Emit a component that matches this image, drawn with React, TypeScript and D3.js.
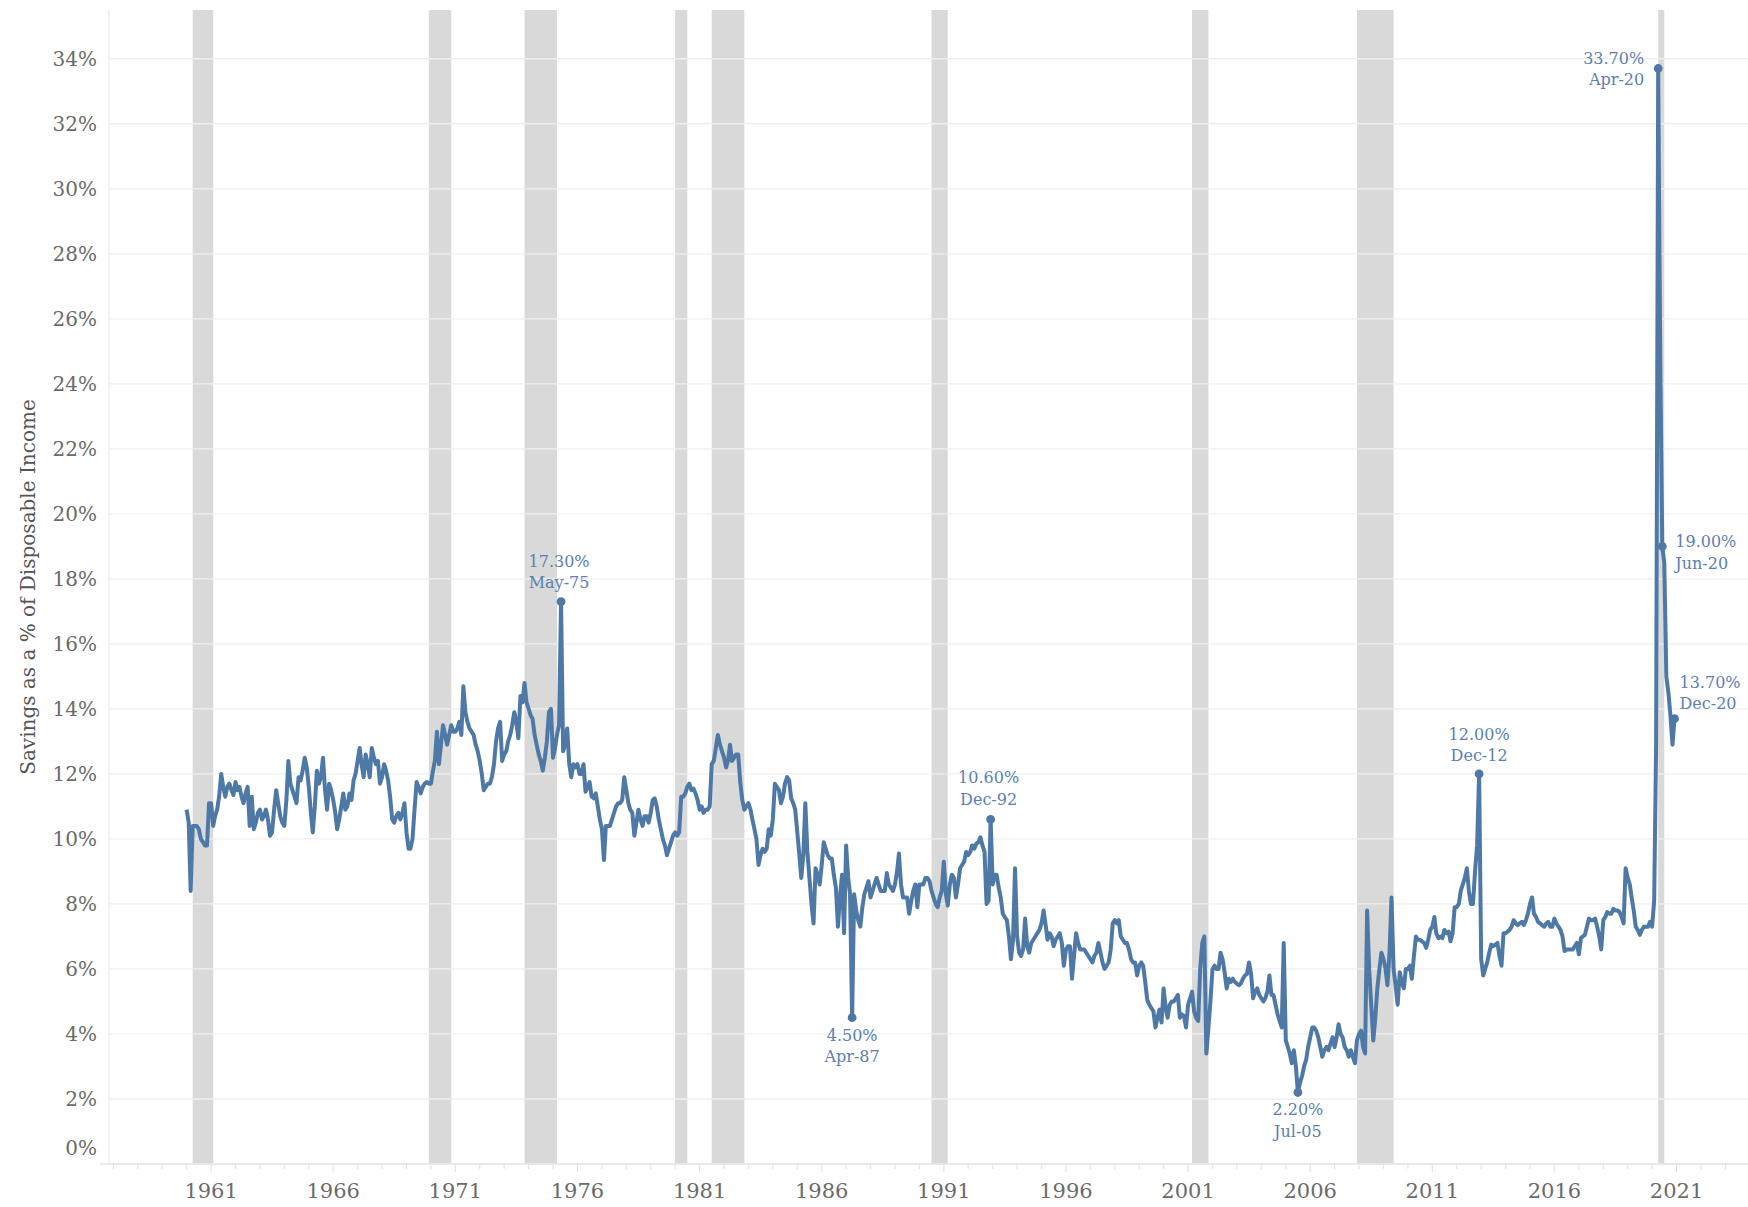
import * as d3 from 'd3'

// Personal saving rate, monthly, Jan 1960 - Dec 2020 (% of disposable income)
const rates1960s = [
  10.9, 10.5, 8.4, 10.4, 10.4, 10.4, 10.3, 10.0, 9.9, 9.8, 9.8, 11.1,
  11.1, 10.4, 10.7, 10.9, 11.3, 12.0, 11.6, 11.3, 11.6, 11.7, 11.5, 11.35,
  11.75, 11.5, 11.6, 11.3, 11.1, 11.4, 11.6, 10.4, 11.3, 10.3, 10.5, 10.8,
  10.9, 10.6, 10.7, 10.9, 10.6, 10.1, 10.2, 10.9, 11.5, 11.1, 10.7, 10.5,
  10.4, 11.2, 12.4, 11.7, 11.5, 11.3, 11.1, 11.9, 11.8, 12.1, 12.5, 12.2,
  11.6, 10.8, 10.2, 11.0, 12.1, 11.7, 11.9, 12.5, 11.5, 10.9, 11.7, 11.5,
  11.2, 10.8, 10.3, 10.6, 11.0, 11.4, 10.9, 11.0, 11.4, 11.2, 11.8, 12.0,
  12.4, 12.8, 12.3, 11.9, 12.6, 12.3, 11.9, 12.8, 12.5, 12.3, 12.4, 11.7,
  11.9, 12.3, 12.1, 11.8, 11.3, 10.6, 10.5, 10.7, 10.8, 10.6, 10.8, 11.1,
  10.2, 9.7, 9.7, 10.0, 10.9, 11.75, 11.6, 11.4, 11.6, 11.7, 11.75, 11.7,
]
const rates1970s = [
  11.7, 12.1, 12.4, 13.3, 12.3, 12.9, 13.5, 13.2, 12.9, 13.2, 13.5, 13.3,
  13.3, 13.4, 13.6, 13.2, 14.7, 13.9, 13.6, 13.4, 13.3, 13.2, 12.9, 12.7,
  12.4, 12.0, 11.5, 11.6, 11.7, 11.7, 11.9, 12.3, 13.0, 13.4, 13.6, 12.4,
  12.6, 12.7, 13.0, 13.2, 13.5, 13.9, 13.6, 13.1, 14.4, 14.2, 14.8, 14.2,
  14.0, 13.8, 13.7, 13.2, 12.9, 12.6, 12.4, 12.1, 12.5, 13.0, 13.9, 14.0,
  12.5, 12.8, 13.2, 13.5, 17.3, 12.7, 12.9, 13.4, 12.3, 11.9, 12.3, 12.2,
  12.3, 12.0, 12.0, 12.3, 11.45, 11.6, 11.75, 11.3, 11.25, 11.4, 11.0, 10.6,
  10.3, 9.35, 10.4, 10.4, 10.4, 10.6, 10.8, 11.0, 11.1, 11.1, 11.2, 11.9,
  11.5, 11.1, 10.9, 10.8, 10.1, 10.5, 10.9, 10.6, 10.4, 10.7, 10.7, 10.5,
  10.8, 11.2, 11.25, 11.0, 10.6, 10.3, 10.0, 9.8, 9.5, 9.7, 9.9, 10.1,
]
const rates1980s = [
  10.2, 10.1, 10.2, 11.3, 11.3, 11.4, 11.6, 11.7, 11.5, 11.55, 11.4, 11.2,
  10.9, 11.0, 10.8, 10.9, 10.9, 11.0, 12.3, 12.4, 12.8, 13.2, 12.9, 12.7,
  12.5, 12.2, 12.4, 12.9, 12.4, 12.5, 12.6, 12.6, 11.75, 11.2, 10.9, 11.0,
  11.1, 10.9, 10.6, 10.3, 10.0, 9.2, 9.5, 9.7, 9.6, 9.7, 10.3, 10.1,
  10.6, 11.7, 11.6, 11.5, 11.1, 11.3, 11.7, 11.9, 11.8, 11.25, 11.1, 10.9,
  10.2, 9.5, 8.8, 9.5, 11.1, 9.6, 8.8, 8.0, 7.4, 9.1, 8.9, 8.6,
  9.2, 9.9, 9.7, 9.5, 9.4, 9.4, 8.9, 8.5, 7.3, 8.2, 8.9, 7.1,
  9.8, 8.8, 8.3, 4.5, 8.3, 7.8, 7.5, 7.3, 7.9, 8.3, 8.5, 8.7,
  8.2, 8.4, 8.6, 8.8, 8.6, 8.4, 8.4, 8.4, 8.95, 8.6, 8.5, 8.4,
  8.6, 9.0, 9.55, 8.6, 8.2, 8.2, 8.2, 7.7, 8.1, 8.4, 8.6, 7.9,
]
const rates1990s = [
  8.6, 8.6, 8.6, 8.8, 8.8, 8.7, 8.4, 8.2, 8.0, 7.9, 8.2, 8.4,
  9.3, 8.3, 7.95, 8.6, 8.9, 8.8, 8.2, 8.6, 9.1, 9.2, 9.3, 9.6,
  9.5, 9.6, 9.8, 9.7, 9.85, 9.9, 10.05, 9.8, 9.6, 8.0, 8.1, 10.6,
  8.6, 8.9, 8.9, 8.5, 8.2, 7.7, 7.6, 7.5, 7.0, 6.3, 6.9, 9.1,
  7.0, 6.5, 6.4, 6.6, 7.55, 6.7, 6.5, 6.8, 6.9, 7.0, 7.1, 7.2,
  7.4, 7.8, 7.4, 6.9, 7.1, 7.0, 6.7, 6.9, 7.0, 7.1, 6.8, 6.1,
  6.6, 6.7, 6.7, 5.7, 6.4, 7.1, 6.8, 6.6, 6.6, 6.6, 6.5, 6.4,
  6.3, 6.2, 6.4, 6.5, 6.8, 6.5, 6.2, 6.0, 6.1, 6.2, 6.6, 7.4,
  7.5, 7.4, 7.5, 7.0, 6.9, 6.8, 6.8, 6.6, 6.3, 6.2, 6.2, 5.8,
  6.1, 6.2, 6.1, 5.6, 5.05, 4.9, 4.8, 4.7, 4.2, 4.5, 4.75, 4.35,
]
const rates2000s = [
  5.4, 4.8, 4.5, 4.9, 5.0, 5.0, 5.1, 5.2, 4.5, 4.6, 4.55, 4.2,
  4.9, 5.1, 5.3, 4.7, 4.5, 4.4, 6.0, 6.8, 7.0, 3.4, 4.2, 5.0,
  6.0, 6.1, 6.0, 6.0, 6.5, 6.3, 5.9, 5.4, 5.7, 5.6, 5.7, 5.6,
  5.55, 5.5, 5.55, 5.7, 5.8, 5.85, 6.2, 5.85, 5.1, 5.3, 5.4, 5.2,
  5.1, 5.0, 5.1, 5.3, 5.8, 5.2, 5.2, 4.9, 4.6, 4.4, 4.2, 6.8,
  3.8, 3.6, 3.4, 3.1, 3.5, 3.0, 2.2, 2.5, 2.7, 3.0, 3.2, 3.6,
  3.9, 4.2, 4.2, 4.1, 3.9, 3.6, 3.3, 3.5, 3.6, 3.5, 3.7, 3.9,
  3.6, 3.9, 4.3, 4.0, 3.9, 3.6, 3.5, 3.3, 3.5, 3.3, 3.1, 3.8,
  4.0, 4.1, 3.6, 3.4, 7.8, 6.0, 4.9, 3.8, 4.5, 5.4, 6.0, 6.5,
  6.3, 6.0, 5.5, 6.5, 8.2, 6.0, 5.5, 4.9, 5.9, 5.6, 5.4, 6.0,
]
const rates2010s = [
  6.0, 6.1, 5.7, 6.4, 7.0, 6.9, 6.9, 6.85, 6.8, 6.65, 6.9, 7.2,
  7.3, 7.6, 7.1, 6.95, 7.0, 6.95, 7.2, 7.1, 7.15, 6.85, 7.1, 7.9,
  7.9, 8.0, 8.4, 8.6, 8.8, 9.1, 8.4, 8.0, 8.0, 9.0, 9.8, 12.0,
  6.3, 5.8, 6.0, 6.2, 6.5, 6.75, 6.7, 6.75, 6.8, 6.4, 6.1, 7.1,
  7.1, 7.15, 7.2, 7.3, 7.5, 7.4, 7.35, 7.4, 7.45, 7.35, 7.5, 7.7,
  8.0, 8.2, 7.7, 7.6, 7.45, 7.4, 7.35, 7.3, 7.4, 7.45, 7.3, 7.3,
  7.55, 7.4, 7.3, 7.2, 7.0, 6.55, 6.6, 6.6, 6.6, 6.6, 6.7, 6.8,
  6.45, 6.95, 7.0, 7.05, 7.3, 7.55, 7.5, 7.5, 7.55, 7.3, 7.0, 6.6,
  7.5, 7.6, 7.75, 7.7, 7.7, 7.85, 7.8, 7.8, 7.75, 7.6, 7.4, 9.1,
  8.8, 8.6, 8.2, 7.8, 7.3, 7.2, 7.05, 7.2, 7.3, 7.3, 7.3, 7.45,
]
const rates2020 = [7.3, 8.1, 12.9, 33.7, 24.9, 19.0, 18.5, 15.0, 14.5, 13.8, 12.9, 13.7]

// shaded recessions (first month, month the shading stops)
const recessions: [string, string][] = [
  ['1960-04', '1961-02'],
  ['1969-12', '1970-11'],
  ['1973-11', '1975-03'],
  ['1980-01', '1980-07'],
  ['1981-07', '1982-11'],
  ['1990-07', '1991-03'],
  ['2001-03', '2001-11'],
  ['2007-12', '2009-06'],
  ['2020-04', '2020-07'],
]

const yTicks = [0, 2, 4, 6, 8, 10, 12, 14, 16, 18, 20, 22, 24, 26, 28, 30, 32, 34]
const xLabelYears = [1961, 1966, 1971, 1976, 1981, 1986, 1991, 1996, 2001, 2006, 2011, 2016, 2021]

const callouts = ['1975-05', '1987-04', '1992-12', '2005-07', '2012-12', '2020-04', '2020-06', '2020-12']

const W = 1748
const H = 1207
const plot = { left: 109, right: 1748, top: 10, bottom: 1164 }
const FONT = '"DejaVu Serif", Georgia, serif'
const LINE = '#4e79a7'
const NOTE = '#5b80b1'
const AXIS_TEXT = '#6b6b6b'

const parseMonth = d3.timeParse('%Y-%m')
const fmtMonth = d3.timeFormat('%b-%y')

// label placement, relative to the marked point
const place: Record<string, { dx: number; dy: number; anchor: string }> = {
  '1975-05': { dx: -2, dy: -41, anchor: 'middle' },
  '1987-04': { dx: 0, dy: 17, anchor: 'middle' },
  '1992-12': { dx: -2, dy: -42, anchor: 'middle' },
  '2005-07': { dx: 0, dy: 17, anchor: 'middle' },
  '2012-12': { dx: 0, dy: -40, anchor: 'middle' },
  '2020-04': { dx: -14, dy: -11, anchor: 'end' },
  '2020-06': { dx: 13, dy: -5, anchor: 'start' },
  '2020-12': { dx: 5, dy: -37, anchor: 'start' },
}

export default function App() {
  const values = [...rates1960s, ...rates1970s, ...rates1980s, ...rates1990s, ...rates2000s, ...rates2010s, ...rates2020]
  const series = values.map((v, i) => ({ date: new Date(1960, i, 1), value: v }))

  const x = d3
    .scaleTime()
    .domain([new Date(1956, 9, 27), new Date(2023, 11, 5)])
    .range([plot.left, plot.right])
  const y = d3.scaleLinear().domain([0, 35.5]).range([plot.bottom, plot.top])

  const line = d3
    .line<{ date: Date; value: number }>()
    .x((d) => x(d.date))
    .y((d) => y(d.value))

  const yearTicks = d3.timeYear.range(new Date(1957, 0, 1), new Date(2024, 0, 1))
  const major = new Set(xLabelYears)

  const marks = callouts.map((key) => {
    const dt = parseMonth(key) as Date
    const idx = (dt.getFullYear() - 1960) * 12 + dt.getMonth()
    return { key, date: dt, value: values[idx] }
  })

  return (
    <>
      <style>{'body{margin:0;background:#fff}'}</style>
      <svg width={W} height={H} style={{ display: 'block', fontFamily: FONT }}>
        {/* recession bands */}
        {recessions.map(([a, b]) => {
          const x0 = x(parseMonth(a) as Date)
          const x1 = x(parseMonth(b) as Date)
          return <rect key={a} x={x0} y={plot.top} width={x1 - x0} height={plot.bottom - plot.top} fill="#d9d9d9" />
        })}

        {/* grid */}
        {yTicks.map((t) => (
          <line key={t} x1={plot.left} x2={plot.right} y1={y(t)} y2={y(t)} stroke="#efefef" strokeWidth={1.3} />
        ))}
        <line x1={plot.left} x2={plot.left} y1={plot.top} y2={plot.bottom} stroke="#ececec" strokeWidth={1.3} />
        <line x1={100} x2={plot.right} y1={plot.bottom} y2={plot.bottom} stroke="#e6e6e6" strokeWidth={1.3} />

        {/* x ticks */}
        {yearTicks.map((d) => (
          <line
            key={d.getFullYear()}
            x1={x(d)}
            x2={x(d)}
            y1={plot.bottom}
            y2={plot.bottom + (major.has(d.getFullYear()) ? 8 : 5)}
            stroke="#e3e3e3"
            strokeWidth={1.2}
          />
        ))}
        {xLabelYears.map((yr) => (
          <text
            key={yr}
            x={x(new Date(yr, 0, 1))}
            y={1191}
            textAnchor="middle"
            dominantBaseline="central"
            fontSize={21}
            fill={AXIS_TEXT}
          >
            {yr}
          </text>
        ))}

        {/* y ticks */}
        {yTicks.map((t) => (
          <text
            key={t}
            x={97}
            y={t === 0 ? y(t) - 16 : y(t)}
            textAnchor="end"
            dominantBaseline="central"
            fontSize={20}
            fill={AXIS_TEXT}
          >
            {t}%
          </text>
        ))}
        <text
          transform={`translate(28,${(plot.top + plot.bottom) / 2}) rotate(-90)`}
          textAnchor="middle"
          dominantBaseline="central"
          fontSize={20}
          fill="#555"
        >
          Savings as a % of Disposable Income
        </text>

        {/* series */}
        <path d={line(series) || ''} fill="none" stroke={LINE} strokeWidth={4} strokeLinejoin="round" />

        {/* call-outs */}
        {marks.map((m) => {
          const px = x(m.date)
          const py = y(m.value)
          const p = place[m.key]
          return (
            <g key={m.key}>
              <circle cx={px} cy={py} r={4.4} fill={LINE} />
              <text
                x={px + p.dx}
                y={py + p.dy}
                textAnchor={p.anchor}
                dominantBaseline="central"
                fontSize={16}
                fill={NOTE}
              >
                <tspan x={px + p.dx}>{m.value.toFixed(2)}%</tspan>
                <tspan x={px + p.dx} dy={21.5}>
                  {fmtMonth(m.date)}
                </tspan>
              </text>
            </g>
          )
        })}
      </svg>
    </>
  )
}
